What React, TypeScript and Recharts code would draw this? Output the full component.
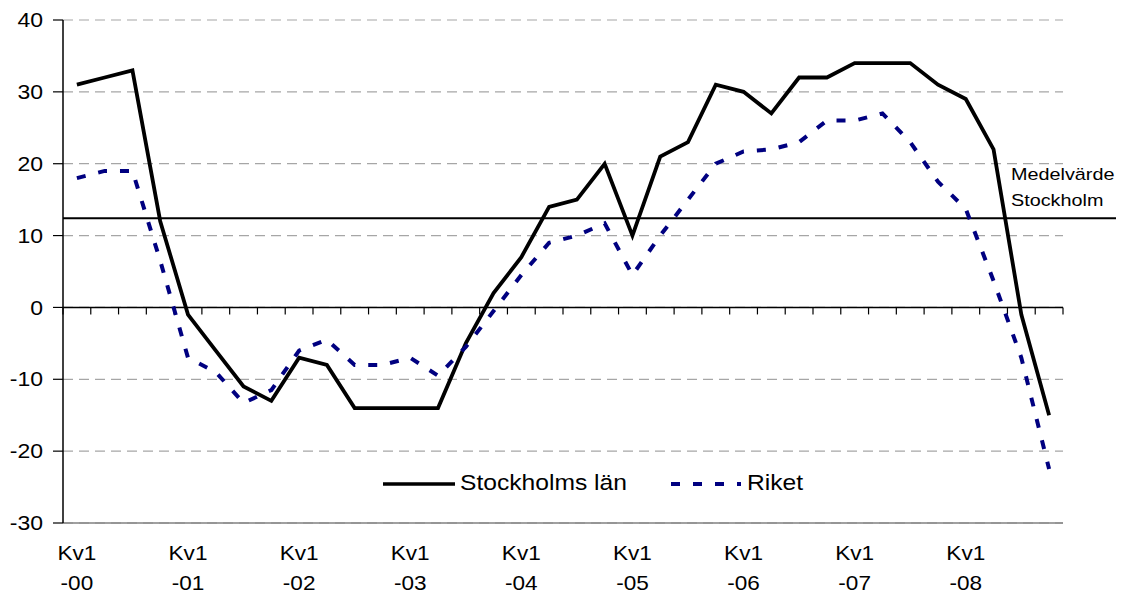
import React from 'react';
import {
    LineChart,
    Line,
    XAxis,
    YAxis,
    CartesianGrid,
    ReferenceLine,
    Legend
} from 'recharts';

const years = ['-00', '-01', '-02', '-03', '-04', '-05', '-06', '-07', '-08'];
const quarterNames = ['Kv1', 'Kv2', 'Kv3', 'Kv4'];

// Stockholms län, one value per quarter Kv1-00 .. Kv4-08
const stockholmsLan = [
    31, 32, 33, 12, -1, -6, -11, -13, -7, -8, -14, -14,
    -14, -14, -5, 2, 7, 14, 15, 20, 10, 21, 23, 31,
    30, 27, 32, 32, 34, 34, 34, 31, 29, 22, -1, -15
];

// Riket, same quarters
const riket = [
    18, 19, 19, 6.5, -7, -9, -13.3, -11.5, -6, -4.5, -8, -8,
    -7, -9.5, -5.5, -0.5, 4.5, 9, 10, 11.7, 4.5, 10, 15, 20,
    21.7, 22, 23, 26, 26, 27, 23, 17.5, 13.7, 3.7, -7, -22.5
];

const yTicks = [-30, -20, -10, 0, 10, 20, 30, 40];
const medelvardeStockholm = 12.4;

const categories = years.flatMap((yr) => quarterNames.map((q) => `${q} ${yr}`));
const data = categories.map((q, i) => ({
    q,
    stockholm: stockholmsLan[i],
    riket: riket[i]
}));

const FONT = '"Liberation Sans", Arial, sans-serif';

const YTick = ({ x, y, payload }: any) => (
    <text
        transform={`translate(${x},${y}) scale(1.15,1)`}
        textAnchor="end"
        dy="0.36em"
        fontSize={20}
        fontFamily={FONT}
        fill="#000"
    >
        {payload.value}
    </text>
);

const XTick = ({ x, y, payload }: any) => {
    const [q, yr] = String(payload.value).split(' ');
    return (
        <g transform={`translate(${x},${y}) scale(1.13,1)`}>
            <text textAnchor="middle" y={37} fontSize={20} fontFamily={FONT} fill="#000">{q}</text>
            <text textAnchor="middle" y={67} fontSize={20} fontFamily={FONT} fill="#000">{yr}</text>
        </g>
    );
};

// zero line with quarter tick marks hanging below it
const ZeroAxis = ({ x1, y1, x2 }: any) => {
    const step = (x2 - x1) / categories.length;
    return (
        <g>
            <line x1={x1} y1={y1} x2={x2} y2={y1} stroke="#000" strokeWidth={1.5} />
            {Array.from({ length: categories.length + 1 }, (_, k) => (
                <line key={k} x1={x1 + step * k} y1={y1} x2={x1 + step * k} y2={y1 + 7} stroke="#000" strokeWidth={1.2} />
            ))}
        </g>
    );
};

const MeanLine = ({ x1, y1, x2 }: any) => (
    <g>
        <line x1={x1} y1={y1} x2={x2 + 53} y2={y1} stroke="#000" strokeWidth={2} />
        <text transform={`translate(${x2 - 52},${y1 - 38.7}) scale(1.2,1)`} fontSize={16.5} fontFamily={FONT} fill="#000">
            Medelvärde
        </text>
        <text transform={`translate(${x2 - 52},${y1 - 12.7}) scale(1.2,1)`} fontSize={16.5} fontFamily={FONT} fill="#000">
            Stockholm
        </text>
    </g>
);

const legendSlots: Record<string, { left: number; dashed: boolean }> = {
    stockholm: { left: 5, dashed: false },
    riket: { left: 293, dashed: true }
};

const LegendContent = ({ payload }: any) => {
    const items = payload || [];
    return (
        <svg width={470} height={40}>
            {items.map((item: any) => {
                const slot = legendSlots[item.dataKey];
                if (!slot) return null;
                const { left, dashed } = slot;
                return (
                    <g key={item.dataKey}>
                        <line
                            x1={left}
                            y1={16}
                            x2={left + (dashed ? 70 : 72)}
                            y2={16}
                            stroke={item.color}
                            strokeWidth={dashed ? 4 : 3.5}
                            strokeDasharray={dashed ? '9 13' : undefined}
                        />
                        <text
                            transform={`translate(${left + (dashed ? 76 : 77)},22) scale(1.12,1)`}
                            fontSize={22}
                            fontFamily={FONT}
                            fill="#000"
                        >
                            {item.value}
                        </text>
                    </g>
                );
            })}
        </svg>
    );
};

export default function App() {
    return (
        <LineChart
            width={1116}
            height={586}
            data={data}
            margin={{ top: 12, right: 61, left: 0, bottom: 0 }}
        >
            <CartesianGrid vertical={false} stroke="#a6a6a6" strokeDasharray="10 6" strokeWidth={1.2} />
            <XAxis
                dataKey="q"
                scale="band"
                interval={3}
                height={71}
                tickSize={0}
                tickMargin={0}
                tickLine={false}
                axisLine={{ stroke: '#808080', strokeWidth: 1.5 }}
                tick={<XTick />}
            />
            <XAxis
                xAxisId="top"
                dataKey="q"
                orientation="top"
                height={0}
                tick={false}
                tickLine={false}
                axisLine={{ stroke: '#808080', strokeWidth: 1.5 }}
            />
            <YAxis
                domain={[-30, 40]}
                ticks={yTicks}
                width={55}
                tickSize={10}
                tickMargin={10}
                tickLine={{ stroke: '#000', strokeWidth: 1.2 }}
                axisLine={{ stroke: '#000', strokeWidth: 1.5 }}
                tick={<YTick />}
            />
            <YAxis
                yAxisId="right"
                orientation="right"
                width={0}
                tick={false}
                tickLine={false}
                axisLine={{ stroke: '#808080', strokeWidth: 2 }}
            />
            <ReferenceLine y={0} shape={<ZeroAxis />} />
            <ReferenceLine y={medelvardeStockholm} shape={<MeanLine />} />
            <Legend
                verticalAlign="middle"
                align="center"
                layout="horizontal"
                wrapperStyle={{ left: 370, top: 460, width: 470, height: 40 }}
                content={<LegendContent />}
            />
            <Line
                type="linear"
                dataKey="stockholm"
                name="Stockholms län"
                stroke="#000000"
                strokeWidth={3.8}
                dot={false}
                isAnimationActive={false}
            />
            <Line
                type="linear"
                dataKey="riket"
                name="Riket"
                stroke="#000080"
                strokeWidth={4}
                strokeDasharray="9 13"
                dot={false}
                isAnimationActive={false}
            />
        </LineChart>
    );
}
